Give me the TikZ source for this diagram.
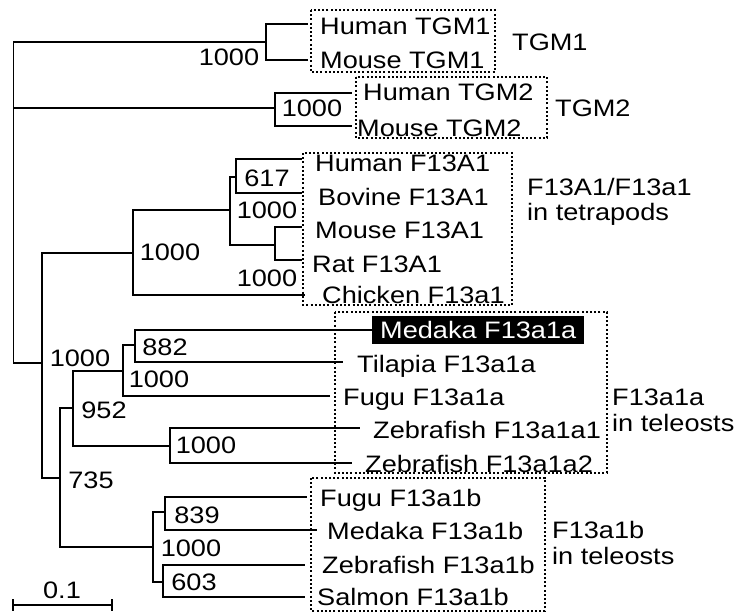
\documentclass[tikz,border=0pt]{standalone}
\usepackage{fontspec}
\setmainfont{Liberation Sans}[FakeStretch=1.14]
\usetikzlibrary{positioning}

\begin{document}
\begin{tikzpicture}[x=1pt, y=-1pt,
    font=\fontsize{23.8pt}{28pt}\selectfont,
    branch/.style={line width=1.7pt},
    leaf/.style={anchor=west, inner sep=0pt, text height=17pt, text depth=0pt},
    boot/.style={inner sep=0pt, text height=17pt, text depth=0pt},
    clade/.style={draw, line width=1.5pt, dash pattern=on 2pt off 2.2pt}]
  \useasboundingbox (0,0) rectangle (742,614);

  % internal nodes of the tree
  \coordinate (root)   at (13.5,200);
  \coordinate (tgm1)   at (266,42);
  \coordinate (tgm2)   at (275,108);
  \coordinate (n2)     at (42,363);
  \coordinate (tetra)  at (133,253);
  \coordinate (mammal) at (230,210);
  \coordinate (hb)     at (236,177);
  \coordinate (mr)     at (275,245);
  \coordinate (n735)   at (60,478);
  \coordinate (f1a)    at (73,408);
  \coordinate (mtf)    at (123,371);
  \coordinate (mt)     at (135,345);
  \coordinate (zf)     at (170,446);
  \coordinate (f1b)    at (153,547);
  \coordinate (fm)     at (165,512);
  \coordinate (zs)     at (163,582);

  % leaves: tip, label
  \foreach \nm/\tx/\ty/\lx/\ly/\lbl in {%
      hTGM1/308/24/320/26/Human TGM1, mTGM1/308/60/320/60/Mouse TGM1,
      hTGM2/352/93/363/92/Human TGM2, mTGM2/352/126/357/128/Mouse TGM2,
      hF/302/159/315/163/Human F13A1, bF/302/193/318/197/Bovine F13A1,
      mF/302/227/315/230/Mouse F13A1, rF/302/260/312/264/Rat F13A1,
      cF/305/295/322/295/Chicken F13a1,
      tila/343/362/357/364/Tilapia F13a1a, fuga/330/396/343/397/Fugu F13a1a,
      zfa1/360/428/373/430/Zebrafish F13a1a1, zfa2/352/463/365/464/Zebrafish F13a1a2,
      fugb/307/497/320/498/Fugu F13a1b, medb/317/530/327/531/Medaka F13a1b,
      zfb/305/565/322/565/Zebrafish F13a1b, salb/305/597/317/597/Salmon F13a1b}
  {
    \coordinate (t\nm) at (\tx,\ty);
    \node[leaf] (l\nm) at (\lx,\ly) {\lbl};
  }
  \node[leaf, fill=black, text=white, inner xsep=8pt, inner ysep=5.5pt]
    (medaka) at (372,330) {Medaka F13a1a};

  % branches
  \foreach \a/\b in {root/tgm1, root/tgm2, root/n2,
      tgm1/thTGM1, tgm1/tmTGM1, tgm2/thTGM2, tgm2/tmTGM2,
      n2/tetra, n2/n735, tetra/mammal, tetra/tcF,
      mammal/hb, mammal/mr, hb/thF, hb/tbF, mr/tmF, mr/trF,
      n735/f1a, n735/f1b, f1a/mtf, f1a/zf,
      mtf/mt, mtf/tfuga, mt/medaka.west, mt/ttila, zf/tzfa1, zf/tzfa2,
      f1b/fm, f1b/zs, fm/tfugb, fm/tmedb, zs/tzfb, zs/tsalb}
    \draw[branch] (\a) |- (\b);

  % bootstrap values
  \foreach \x/\y/\v in {229/57/1000, 312/108/1000, 267/178/617, 267/210/1000,
      170/252/1000, 267/278/1000, 80/358/1000, 165/347/882, 159/379/1000,
      104/410/952, 206/445/1000, 91/480/735, 197/515/839, 191/548/1000,
      194/582/603}
    \node[boot] at (\x,\y) {\v};

  % clade boxes
  \draw[clade] (311,10) rectangle (495,72);
  \draw[clade] (356,77) rectangle (547,138);
  \draw[clade] (303,153) rectangle (512,305);
  \draw[clade] (335,312) rectangle (607,473);
  \draw[clade] (311,478) rectangle (545,611);

  \node[leaf] (gTGM1) at (512,42) {TGM1};
  \node[leaf] (gTGM2) at (555,108) {TGM2};
  \node[leaf] (gF13A1) at (527,187) {F13A1/F13a1};
  \node[leaf] (gF13A1b) at (527,212) {in tetrapods};
  \node[leaf] (gF13a1a) at (612,397) {F13a1a};
  \node[leaf] (gF13a1ab) at (612,423) {in teleosts};
  \node[leaf] (gF13a1b) at (552,530) {F13a1b};
  \node[leaf] (gF13a1bb) at (552,556) {in teleosts};

  % scale bar
  \coordinate (sbL) at (13,605);
  \coordinate (sbR) at (112,605);
  \draw[branch] (sbL) -- (sbR) (sbL) ++(0,-6) -- ++(0,12) (sbR) ++(0,-6) -- ++(0,12);
  \node[boot] (sblabel) at (62,590) {0.1};
\end{tikzpicture}
\end{document}
